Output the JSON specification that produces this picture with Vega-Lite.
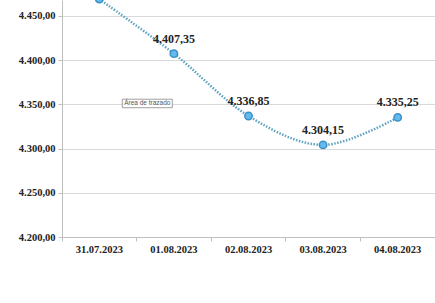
{
  "$schema": "https://vega.github.io/schema/vega-lite/v6.json",
  "width": 373,
  "height": 237,
  "autosize": {"type": "none"},
  "padding": {"left": 62, "top": 0, "right": 0, "bottom": 66},
  "background": "white",
  "config": {
    "locale": {"number": {"decimal": ",", "thousands": ".", "grouping": [3], "currency": ["", " €"]}},
    "view": {"stroke": null},
    "font": "Liberation Serif"
  },
  "data": {
    "values": [
      {"fecha": "31.07.2023", "valor": 4469.0},
      {"fecha": "01.08.2023", "valor": 4407.35},
      {"fecha": "02.08.2023", "valor": 4336.85},
      {"fecha": "03.08.2023", "valor": 4304.15},
      {"fecha": "04.08.2023", "valor": 4335.25}
    ]
  },
  "encoding": {
    "x": {
      "field": "fecha", "type": "ordinal", "sort": null,
      "scale": {"type": "band", "paddingInner": 0, "paddingOuter": 0},
      "axis": {
        "title": null, "labelAngle": 0, "labelFont": "Liberation Serif", "labelFontWeight": "bold",
        "labelFontSize": 10.5, "labelColor": "#222222", "labelPadding": 3,
        "domainColor": "#bfbfbf", "tickColor": "#bfbfbf", "tickSize": 4, "bandPosition": 0, "grid": false
      }
    },
    "y": {
      "field": "valor", "type": "quantitative",
      "scale": {"domain": [4200, 4468], "nice": false, "zero": false},
      "axis": {
        "title": null, "values": [4200, 4250, 4300, 4350, 4400, 4450], "format": ",.2f",
        "labelFont": "Liberation Serif", "labelFontWeight": "bold", "labelFontSize": 10.5, "labelColor": "#222222",
        "labelPadding": 3, "domainColor": "#bfbfbf", "tickColor": "#bfbfbf", "tickSize": 4,
        "gridColor": "#d9d9d9", "gridWidth": 1
      }
    }
  },
  "layer": [
    {
      "mark": {"type": "line", "interpolate": "cardinal", "color": "#5fa3c0", "strokeWidth": 2.5, "strokeDash": [1.5, 1.5], "clip": false}
    },
    {
      "mark": {"type": "point", "shape": "circle", "filled": true, "size": 55, "fill": "#62bbee", "stroke": "#3d8fc4", "strokeWidth": 1.5, "opacity": 1}
    },
    {
      "mark": {"type": "text", "font": "Liberation Serif", "fontWeight": "bold", "fontSize": 12, "color": "#222222", "dy": -15, "dx": 0},
      "encoding": {"text": {"field": "valor", "type": "quantitative", "format": ",.2f"}}
    },
    {
      "data": {"values": [{"fecha": "31.07.2023", "valor": 4351, "etiqueta": "Área de trazado"}]},
      "layer": [
        {
          "mark": {"type": "point", "shape": "M-1,-0.17L1,-0.17L1,0.17L-1,0.17Z", "size": 2500, "filled": true, "fill": "white", "stroke": "#888888", "strokeWidth": 0.8, "opacity": 1, "xOffset": 48}
        },
        {
          "mark": {"type": "text", "font": "Liberation Sans", "fontSize": 6.5, "color": "#555555", "dx": 48},
          "encoding": {"text": {"field": "etiqueta"}}
        }
      ]
    }
  ]
}
